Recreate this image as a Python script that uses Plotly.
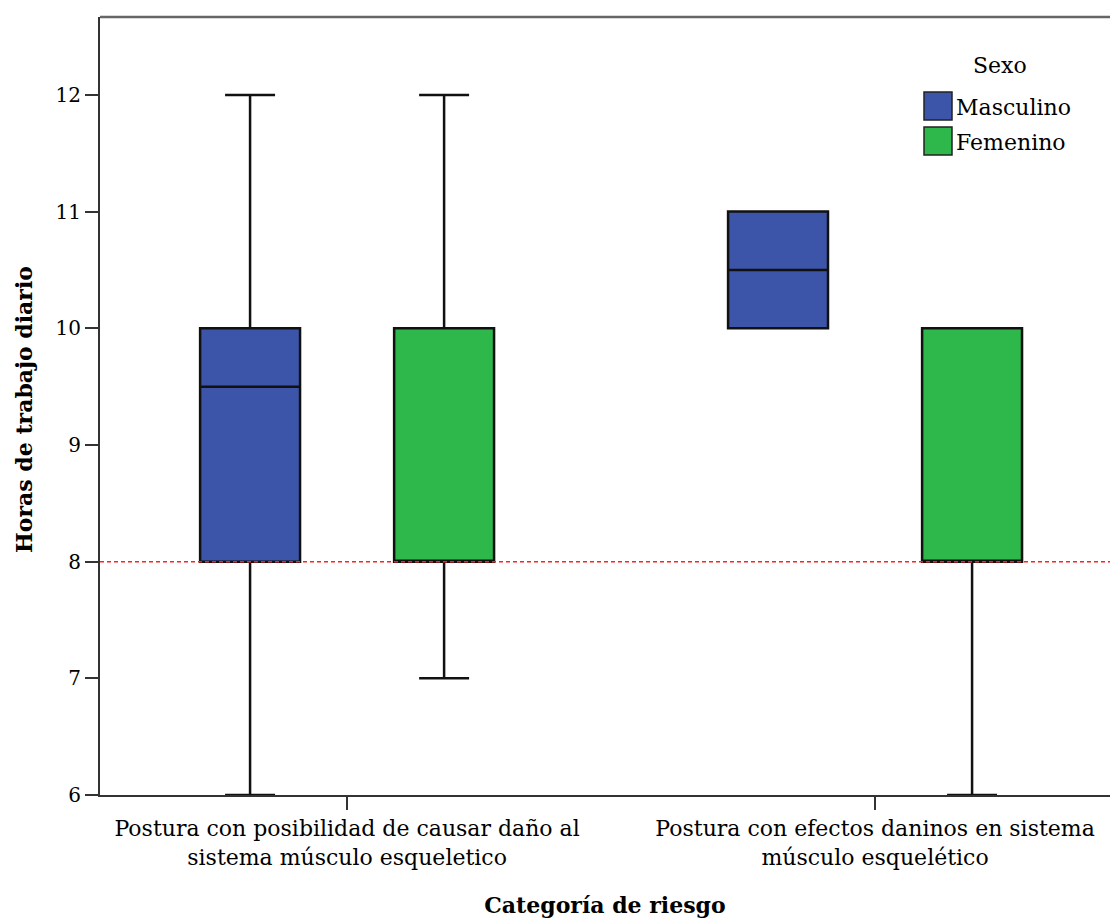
import plotly.graph_objects as go

# Risk categories (x axis)
categories = [
    "Postura con posibilidad de causar daño al<br>sistema músculo esqueletico",
    "Postura con efectos daninos en sistema<br>músculo esquelético",
]

# Box statistics per sex, one value per category (hours per day)
sexes = ["Masculino", "Femenino"]
colors = ["#3D55A8", "#2EB74A"]
lower_fence = {"Masculino": [6, 10], "Femenino": [7, 6]}
q1 = {"Masculino": [8, 10], "Femenino": [8, 8]}
median = {"Masculino": [9.5, 10.5], "Femenino": [8, 8]}
q3 = {"Masculino": [10, 11], "Femenino": [10, 10]}
upper_fence = {"Masculino": [12, 11], "Femenino": [12, 10]}

reference_hours = 8
y_ticks = [6, 7, 8, 9, 10, 11, 12]

FONT = "DejaVu Serif"

fig = go.Figure()
for sex, col in zip(sexes, colors):
    fig.add_trace(go.Box(
        name=sex,
        x=categories,
        lowerfence=lower_fence[sex],
        q1=q1[sex],
        median=median[sex],
        q3=q3[sex],
        upperfence=upper_fence[sex],
        fillcolor=col,
        line=dict(color="#111111", width=2.5),
        whiskerwidth=0.5,
        boxpoints=False,
        showlegend=False,
        hoverinfo="skip",
    ))

W, H = 1110, 918
ml, mr, mt, mb = 100, 0, 17, 123
pw, ph = W - ml - mr, H - mt - mb


def px_x(p):
    return (p - ml) / pw


def px_y(p):
    return (H - mb - p) / ph


shapes = [
    # horizontal reference line
    dict(type="line", xref="paper", yref="y", x0=0, x1=1,
         y0=reference_hours, y1=reference_hours,
         line=dict(color="#FF2020", width=1.5, dash="4px,3px")),
    # top frame
    dict(type="line", xref="paper", yref="paper", x0=0, x1=1, y0=1, y1=1,
         line=dict(color="#666666", width=2.5)),
]

annotations = [
    # y-axis title placed close to the left edge
    dict(text="<b>Horas de trabajo diario</b>", xref="paper", yref="paper",
         x=px_x(24), y=px_y(410), textangle=-90, showarrow=False,
         xanchor="center", yanchor="middle",
         font=dict(family=FONT, size=22, color="#000")),
    dict(text="Sexo", xref="paper", yref="paper", x=px_x(1000), y=px_y(65),
         showarrow=False, xanchor="center", yanchor="middle",
         font=dict(family=FONT, size=22, color="#000")),
]
leg_tops = [92, 127]
for sex, col, top in zip(sexes, colors, leg_tops):
    shapes.append(dict(type="rect", xref="paper", yref="paper",
                       x0=px_x(924), x1=px_x(952), y0=px_y(top), y1=px_y(top + 28),
                       fillcolor=col, line=dict(color="#222222", width=1.5)))
    annotations.append(dict(text=sex, xref="paper", yref="paper",
                            x=px_x(954), y=px_y(top + 15), showarrow=False,
                            xanchor="left", yanchor="middle",
                            font=dict(family=FONT, size=22, color="#000")))

fig.update_layout(
    width=W, height=H,
    margin=dict(l=ml, r=mr, t=mt, b=mb),
    paper_bgcolor="white", plot_bgcolor="white",
    boxmode="group", boxgap=0.265, boxgroupgap=0.485,
    font=dict(family=FONT, size=22, color="#000"),
    shapes=shapes,
    annotations=annotations,
    xaxis=dict(
        range=[-0.468, 1.445],
        showline=True, linecolor="#333333", linewidth=2,
        ticks="outside", ticklen=13, tickwidth=1.5, tickcolor="#333333",
        showgrid=False, zeroline=False,
        tickfont=dict(family=FONT, size=22),
        title=dict(text="<b>Categoría de riesgo</b>", standoff=29,
                   font=dict(family=FONT, size=22)),
    ),
    yaxis=dict(
        range=[6, 12.668],
        tickvals=y_ticks,
        showline=True, linecolor="#333333", linewidth=2,
        ticks="outside", ticklen=13, tickwidth=1.5, tickcolor="#333333",
        showgrid=False, zeroline=False,
        tickfont=dict(family=FONT, size=20),
        ticklabelstandoff=0,
    ),
)

fig.write_html("out.html")
